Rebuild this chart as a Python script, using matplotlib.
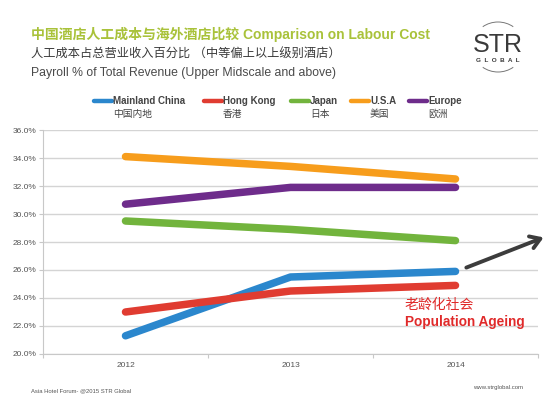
import matplotlib
matplotlib.use("Agg")
import matplotlib.pyplot as plt
from matplotlib.lines import Line2D
from matplotlib.patches import Arc

plt.rcParams['font.family'] = ['Liberation Sans', 'Noto Sans CJK SC', 'DejaVu Sans']

years = ['2012', '2013', '2014']
series_en = ['Mainland China', 'Hong Kong', 'Japan', 'U.S.A', 'Europe']
series_cn = ['中国内地', '香港', '日本', '美国', '欧洲']
china = [21.3, 25.5, 25.9]
hongkong = [23.0, 24.5, 24.9]
japan = [29.5, 28.9, 28.1]
usa = [34.1, 33.4, 32.5]
europe = [30.7, 31.9, 31.9]
values = [china, hongkong, japan, usa, europe]
colors = ['#2b87cd', '#e03c31', '#72b43d', '#f79d1c', '#6e2c8b']
yticks = [20, 22, 24, 26, 28, 30, 32, 34, 36]

W, H = 550, 411
fig = plt.figure(figsize=(5.5, 4.11), dpi=100)
fig.patch.set_facecolor('white')

ax = fig.add_axes([43 / W, 1 - 354 / H, (538 - 43) / W, (354 - 130) / H])
x = list(range(len(years)))
for vals, c in zip(values, colors):
    ax.plot(x, vals, color=c, lw=5.4, solid_capstyle='round', zorder=3)

ax.set_xlim(-0.5, 2.5)
ax.set_ylim(20, 36)
ax.set_yticks(yticks)
ax.set_yticklabels([f'{v:.1f}%' for v in yticks])
ax.set_xticks(x)
ax.set_xticklabels(years)
ax.set_xticks([-0.5, 0.5, 1.5, 2.5], minor=True)
ax.tick_params(axis='x', which='major', length=0, labelsize=6, labelcolor='#555555', pad=6)
ax.tick_params(axis='x', which='minor', length=3, color='#c8c8c8', width=0.8)
ax.tick_params(axis='y', length=3, color='#c8c8c8', width=0.8, labelsize=6,
               labelcolor='#555555', pad=2)
ax.grid(axis='y', color='#d4d4d4', lw=1.0, zorder=0)
for s in ['top', 'right']:
    ax.spines[s].set_visible(False)
ax.spines['left'].set_color('#c8c8c8')
ax.spines['bottom'].set_color('#c8c8c8')
ax.spines['left'].set_linewidth(0.8)
ax.spines['bottom'].set_linewidth(0.8)
ax.set_axisbelow(True)

# arrow
ax.annotate('', xy=(2.55, 28.4), xytext=(2.05, 26.1),
            arrowprops=dict(arrowstyle='->,head_length=0.7,head_width=0.45',
                            color='#3c3c3c', lw=2.8),
            annotation_clip=False, zorder=5)

ax.text(405 / W, 1 - 305 / H, '老龄化社会', transform=fig.transFigure,
        color='#e02a2a', fontsize=10, va='center', ha='left')
ax.text(405 / W, 1 - 322 / H, 'Population Ageing', transform=fig.transFigure,
        color='#e02a2a', fontsize=9.8, fontweight='bold', va='center', ha='left')

# overlay for header decorations in pixel coordinates
ov = fig.add_axes([0, 0, 1, 1], facecolor='none')
ov.set_xlim(0, W)
ov.set_ylim(H, 0)
ov.axis('off')

ov.text(31, 34, '中国酒店人工成本与海外酒店比较 Comparison on Labour Cost',
        color='#a9c23a', fontsize=10, fontweight='bold', va='center', ha='left')
ov.text(31, 55, '人工成本占总营业收入百分比 （中等偏上以上级别酒店）',
        color='#3a3a3a', fontsize=8.8, va='center', ha='left')
ov.text(31, 73, 'Payroll % of Total Revenue (Upper Midscale and above)',
        color='#4a4a4a', fontsize=8.8, va='center', ha='left')

leg_x = [93, 203, 290, 350, 408]
for lx, en, cn, c in zip(leg_x, series_en, series_cn, colors):
    ov.add_line(Line2D([lx + 1, lx + 19], [101, 101], color=c, lw=3.2,
                       solid_capstyle='round'))
    ov.text(lx + 20, 101, en, fontsize=7, fontweight='bold', color='#444444',
            va='center', ha='left')
    ov.text(lx + 20, 114, cn, fontsize=7, color='#444444', va='center', ha='left')

# STR logo
ov.text(498, 45, 'STR', fontsize=18, color='#3a3a3a', va='center', ha='center')
ov.text(498, 60, 'G  L  O  B  A  L', fontsize=4.6, fontweight='bold', color='#3a3a3a',
        va='center', ha='center')
ov.add_patch(Arc((498, 47), 52, 50, theta1=53, theta2=127, color='#777777', lw=0.7))
ov.add_patch(Arc((498, 47), 52, 50, theta1=233, theta2=307, color='#777777', lw=0.7))

ov.text(31, 391, 'Asia Hotel Forum- @2015 STR Global', fontsize=4.2, color='#555555',
        va='center', ha='left')
ov.text(473, 387, 'www.strglobal.com', fontsize=4.3, color='#555555',
        va='center', ha='left')

fig.savefig('out.png', dpi=100, facecolor='white')
